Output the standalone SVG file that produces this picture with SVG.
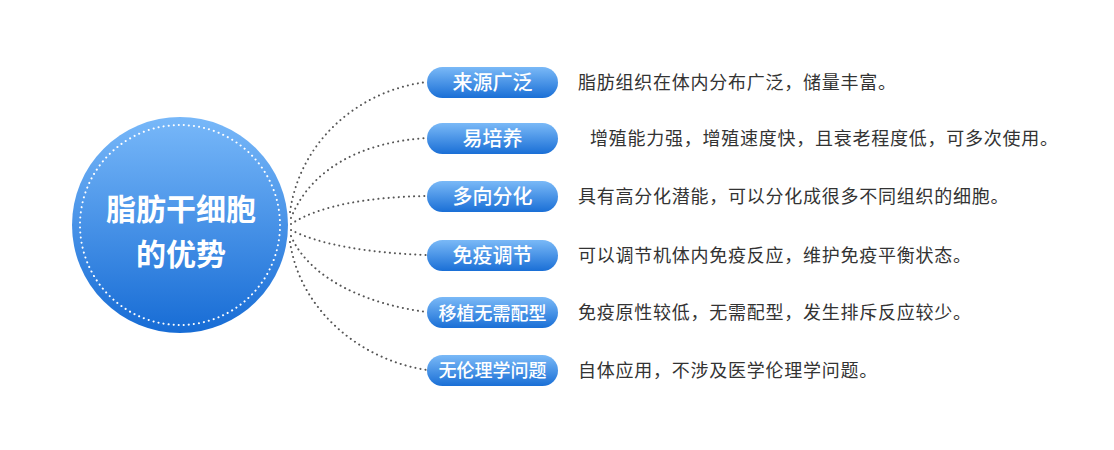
<svg xmlns="http://www.w3.org/2000/svg" width="1114" height="450" viewBox="0 0 1114 450">
<defs>
<linearGradient id="gc" x1="0" y1="0" x2="0" y2="1">
<stop offset="0" stop-color="#78b8f9"/>
<stop offset="1" stop-color="#176cd5"/>
</linearGradient>
<linearGradient id="gp" x1="0" y1="0" x2="0" y2="1">
<stop offset="0" stop-color="#7ab9f7"/>
<stop offset="1" stop-color="#1a6fd6"/>
</linearGradient>
<style>
.pill{fill:url(#gp);}
.pt{font-family:"Noto Sans CJK SC",sans-serif;font-size:20px;fill:#fff;text-anchor:middle;font-weight:500;}
.pt.s{font-size:18px;}
.dt{font-family:"Noto Sans CJK SC",sans-serif;font-size:18px;fill:#333;letter-spacing:0.75px;}
.ct{font-family:"Noto Sans CJK SC",sans-serif;font-size:30px;fill:#fff;text-anchor:middle;font-weight:bold;}
.cn{fill:none;stroke:#555;stroke-width:2;stroke-dasharray:0.1 5;stroke-linecap:round;}
</style>
</defs>
<rect width="1114" height="450" fill="#fff"/>
<g id="connectors">
<path class="cn" d="M290,212 C300,140 360,90 427,82"/>
<path class="cn" d="M291,218 C310,170 360,142 427,138"/>
<path class="cn" d="M291,224 C320,205 370,197 427,196"/>
<path class="cn" d="M291,230 C320,245 370,253 427,255"/>
<path class="cn" d="M291,236 C310,280 370,305 427,312"/>
<path class="cn" d="M290,242 C300,310 360,360 427,370"/>
</g>
<g id="center">
<circle cx="180" cy="225" r="108" fill="url(#gc)"/>
<circle cx="180" cy="225" r="100" fill="none" stroke="#fff" stroke-width="2" stroke-dasharray="0.1 5" stroke-linecap="round"/>
<text class="ct" x="181" y="220">脂肪干细胞</text>
<text class="ct" x="181" y="265">的优势</text>
</g>
<g id="n1"><rect class="pill" x="427" y="67" width="131" height="31" rx="15.5"/><text class="pt" x="492.5" y="90">来源广泛</text><text class="dt" x="578" y="89">脂肪组织在体内分布广泛，储量丰富。</text></g>
<g id="n2"><rect class="pill" x="427" y="123" width="131" height="31" rx="15.5"/><text class="pt" x="492.5" y="146">易培养</text><text class="dt" x="590" y="145">增殖能力强，增殖速度快，且衰老程度低，可多次使用。</text></g>
<g id="n3"><rect class="pill" x="427" y="181" width="131" height="31" rx="15.5"/><text class="pt" x="492.5" y="204">多向分化</text><text class="dt" x="578" y="203">具有高分化潜能，可以分化成很多不同组织的细胞。</text></g>
<g id="n4"><rect class="pill" x="427" y="240" width="131" height="31" rx="15.5"/><text class="pt" x="492.5" y="263">免疫调节</text><text class="dt" x="578" y="262">可以调节机体内免疫反应，维护免疫平衡状态。</text></g>
<g id="n5"><rect class="pill" x="427" y="297" width="131" height="31" rx="15.5"/><text class="pt s" x="492.5" y="319.5">移植无需配型</text><text class="dt" x="578" y="319">免疫原性较低，无需配型，发生排斥反应较少。</text></g>
<g id="n6"><rect class="pill" x="427" y="355" width="131" height="31" rx="15.5"/><text class="pt s" x="492.5" y="377">无伦理学问题</text><text class="dt" x="578" y="377">自体应用，不涉及医学伦理学问题。</text></g>
</svg>
